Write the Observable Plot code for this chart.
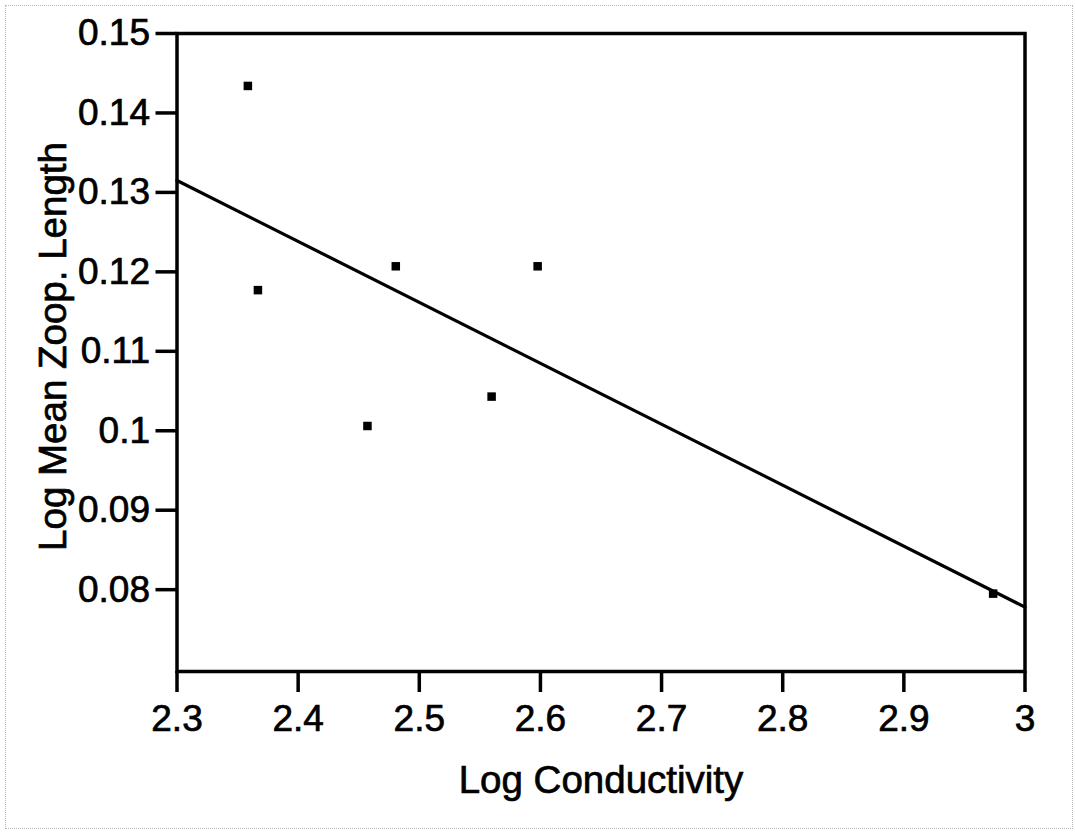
<!DOCTYPE html>
<html>
<head>
<meta charset="utf-8">
<script src="https://cdn.jsdelivr.net/npm/d3@7"></script>
<script src="https://cdn.jsdelivr.net/npm/@observablehq/plot@0.6"></script>
<style>
  html, body { margin: 0; padding: 0; background: #fff; }
  #wrap { position: relative; width: 1075px; height: 832px; }
  #wrap svg { position: absolute; left: 0; top: 0; }
  #edge { position: absolute; left: 5px; top: 5px; width: 1066px; height: 822px;
          border: 1px dotted #b8b8b8; pointer-events: none; }
  /* heavier axis ticks and slightly thickened lettering */
  .zoop-chart g[aria-label$="axis tick"] path { stroke-width: 3.5px; }
  .zoop-chart text { stroke: #000; stroke-width: 0.7px; }
</style>
</head>
<body>
<div id="wrap"><div id="edge"></div></div>
<script>
// Observed sites: log conductivity vs. log mean zooplankton length
const conductivity = [2.3585, 2.3668, 2.4806, 2.5977, 2.5597, 2.4572, 2.9737];
const zoopLength   = [0.1434, 0.1177, 0.1207, 0.1207, 0.1043, 0.1006, 0.0795];

// Fitted regression line, evaluated at the ends of the x range
const fitX = [2.3, 3.0];
const fitY = [0.1315, 0.0778];

const xTicks = [2.3, 2.4, 2.5, 2.6, 2.7, 2.8, 2.9, 3.0];
const yTicks = [0.08, 0.09, 0.10, 0.11, 0.12, 0.13, 0.14, 0.15];

const xTitle = "Log Conductivity";
const yTitle = "Log Mean Zoop. Length";

const points = conductivity.map((x, i) => ({x, y: zoopLength[i]}));
const fit = fitX.map((x, i) => ({x, y: fitY[i]}));
const trim = d => String(+d.toFixed(2));

const chart = Plot.plot({
  className: "zoop-chart",
  width: 1075,
  height: 832,
  marginLeft: 176.5,
  marginRight: 50.5,
  marginTop: 33,
  marginBottom: 161,
  style: {fontFamily: "'Liberation Sans', Arial, sans-serif", color: "#000", background: "transparent"},
  x: {domain: [2.3, 3.0]},
  y: {domain: [0.0697, 0.15]},
  marks: [
    Plot.frame({stroke: "#000", strokeWidth: 3.5}),
    Plot.axisX({ticks: xTicks, tickFormat: trim, tickSize: 21, tickPadding: 12,
                fontSize: 37, strokeWidth: 3.5, label: null}),
    Plot.axisY({ticks: yTicks, tickFormat: trim, tickSize: 21, tickPadding: 6,
                fontSize: 37, strokeWidth: 3.5, label: null}),
    Plot.line(fit, {x: "x", y: "y", stroke: "#000", strokeWidth: 3.2}),
    Plot.dot(points, {x: "x", y: "y", symbol: "square", r: 4.8, fill: "#000", stroke: "none"}),
    Plot.text([xTitle], {frameAnchor: "bottom", dy: 109, fontSize: 38.5, lineAnchor: "middle", fill: "#000"}),
    Plot.text([yTitle], {frameAnchor: "left", dx: -123, dy: -6, rotate: -90, fontSize: 38.5,
                         lineAnchor: "middle", textAnchor: "middle", fill: "#000"})
  ]
});
document.getElementById("wrap").prepend(chart);
</script>
</body>
</html>
